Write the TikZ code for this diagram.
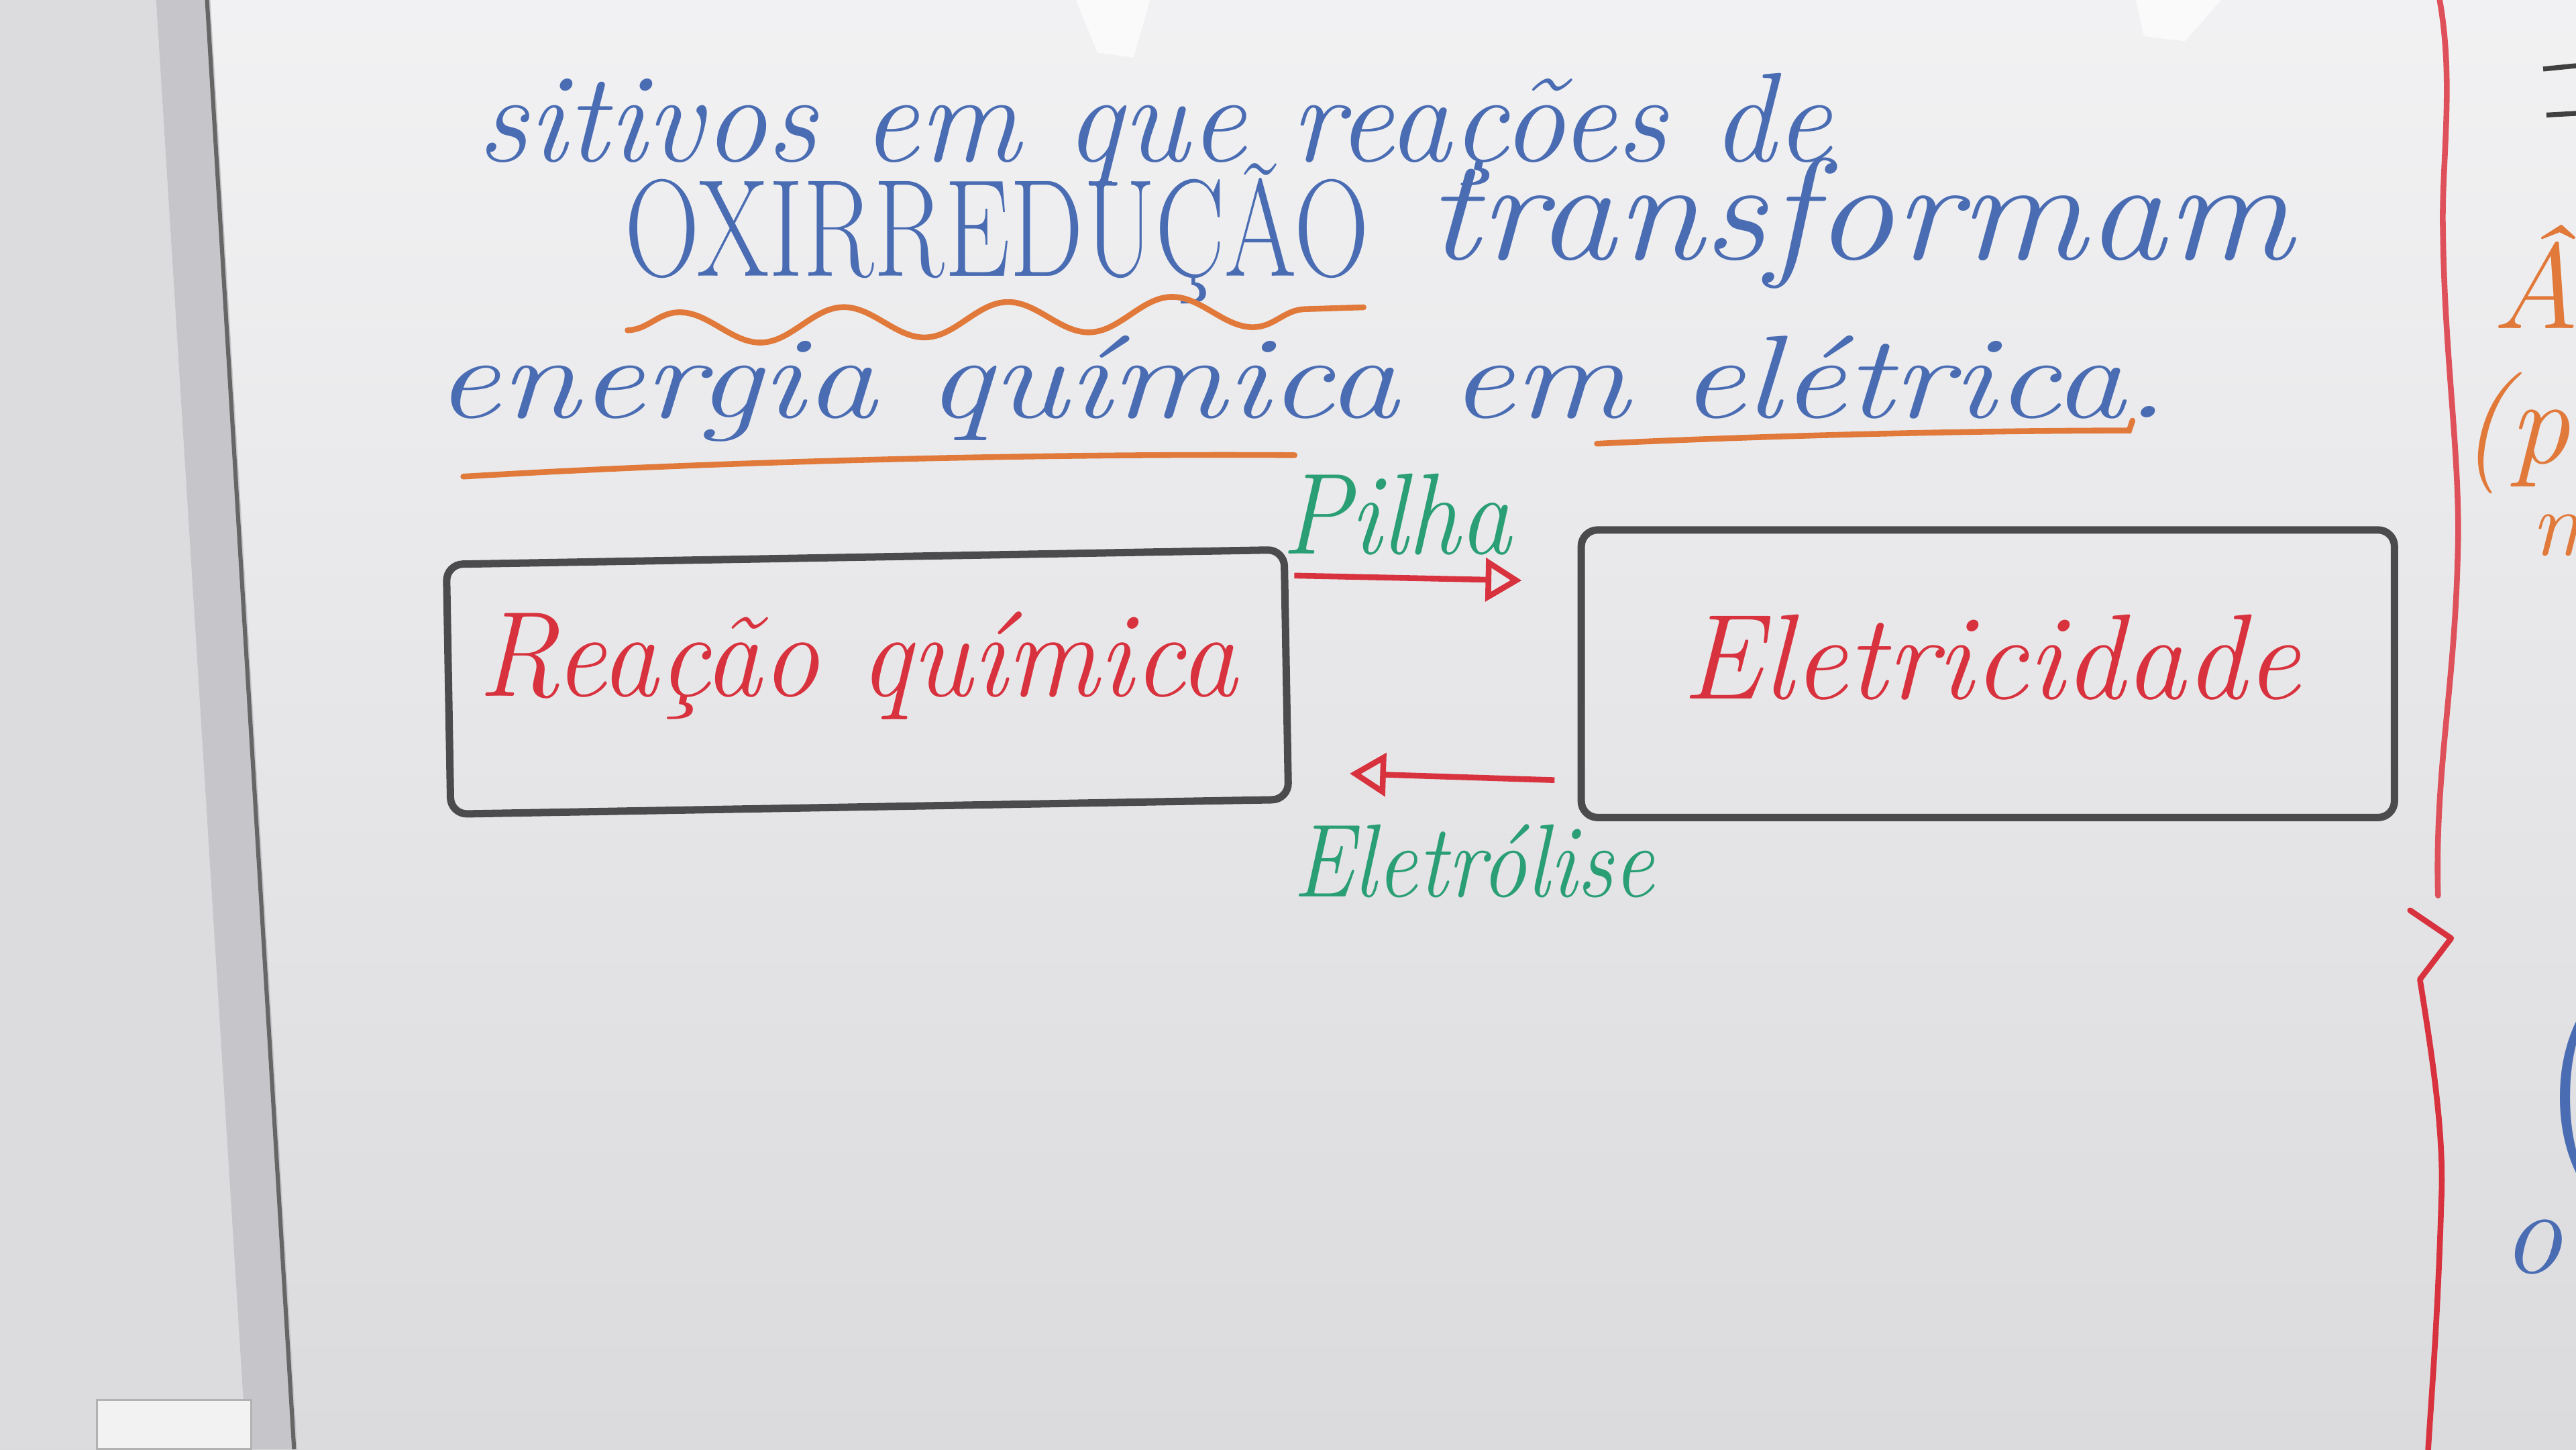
\documentclass[tikz,border=0pt]{standalone}
\usepackage{fontspec}
\usetikzlibrary{positioning,calc,arrows.meta,decorations.pathmorphing}

\definecolor{quadro}{HTML}{E4E4E7}
\definecolor{parede}{HTML}{DCDCDF}
\definecolor{moldura}{HTML}{C6C6CA}
\definecolor{azul}{HTML}{4A6CB3}
\definecolor{laranja}{HTML}{E0793A}
\definecolor{vermelho}{HTML}{D8323E}
\definecolor{verde}{HTML}{2A9E74}
\definecolor{grafite}{HTML}{4B4B4E}

\tikzset{
  escrita/.style={inner sep=0pt, font=\fontsize{21}{24}\selectfont\itshape},
  caixa/.style={draw=grafite, line width=0.45mm, rounded corners=1mm, inner sep=0pt},
  seta/.style={vermelho, line width=0.35mm, -{Triangle[open,length=2.2mm,width=2.6mm]}},
  sublinhado/.style={laranja, line width=0.35mm, line cap=round}
}

\begin{document}
\begin{tikzpicture}[x=0.1mm,y=-0.1mm]
	\useasboundingbox (0,0) rectangle (1568,882);
	% quadro, parede e moldura
	\shade[top color=quadro!50!white, bottom color=quadro!96!black] (0,0) rectangle (1568,882);
	\fill[parede] (0,0)--(95,0)--(150,882)--(0,882)--cycle;
	\fill[moldura] (95,0)--(128,0)--(181,882)--(150,882)--cycle;
	\draw[gray!80!black, line width=0.25mm] (126,0)--(179,882);
	\fill[white!90!gray, draw=gray!60] (59,852) rectangle (153,882);
	\fill[white, opacity=0.7] (655,0)--(700,0)--(690,35)--(668,32)--cycle;
	\fill[white, opacity=0.7] (1300,0)--(1352,0)--(1330,25)--(1305,22)--cycle;

	% texto azul
	\node[escrita, text=azul, anchor=base west, font=\fontsize{22}{24}\selectfont\itshape] (linha1) at (290,98) {sitivos em que reações de};
	\node[escrita, text=azul, anchor=base west, font=\fontsize{24}{26}\selectfont, xscale=0.75] (oxi) at (380,168) {OXIRREDUÇÃO};
	\node[escrita, text=azul, anchor=base west, font=\fontsize{25}{26}\selectfont\itshape, xscale=1.1] (transf) at (868,158) {transformam};
	\node[escrita, text=azul, anchor=base west, font=\fontsize{24}{26}\selectfont\itshape, xscale=1.04, yscale=0.85] (linha3) at (264,254) {energia química em elétrica.};
	\draw[sublinhado, decorate, decoration={snake, amplitude=1mm, segment length=10mm}] (382,201)--(830,187);
	\draw[sublinhado] (282,290) .. controls (450,280) and (650,276) .. (788,277);
	\draw[sublinhado] (972,270) .. controls (1100,264) and (1220,262) .. (1296,262)--(1298,256);

	% caixas
	\node[caixa, minimum width=51mm, minimum height=15.2mm, rotate=1] (reacao) at (528,415) {};
	\node[escrita, text=vermelho, xscale=0.95] (reacaotxt) at (522,405) {Reação química};
	\node[caixa, minimum width=49.5mm, minimum height=17.5mm] (eletr) at (1210,410) {};
	\node[escrita, text=vermelho] (eletrtxt) at (1212,400) {Eletricidade};

	% setas
	\draw[seta] ($(reacao.north east)+(4,18)$) -- ($(eletr.north west)+(-34,33)$);
	\draw[seta] ($(eletr.south west)+(-14,-25)$) -- ($(reacao.south east)+(35,-18)$);
	\node[escrita, text=verde, font=\fontsize{20}{22}\selectfont\itshape, xscale=0.9] (pilha) at (850,313) {Pilha};
	\node[escrita, text=verde, font=\fontsize{18}{20}\selectfont\itshape, xscale=0.88] (eletrolise) at (897,524) {Eletrólise};

	% margem direita
	\draw[vermelho!85!white, line width=0.35mm, line cap=round] (1485,0) .. controls (1494,50) and (1486,100) .. (1487,140)
	   .. controls (1488,220) and (1498,280) .. (1496,338) .. controls (1494,420) and (1482,470) .. (1484,545);
	\draw[vermelho, line width=0.35mm, line cap=round, line join=round] (1467,554)--(1492,571)--(1473,596)
	   .. controls (1480,640) and (1488,690) .. (1486,731) .. controls (1484,800) and (1480,850) .. (1478,882);
	\draw[black!75, line width=0.3mm] (1548,42)--(1568,40);
	\draw[black!75, line width=0.3mm] (1550,70)--(1568,69);
	\node[escrita, text=laranja, anchor=base west] (am) at (1516,200) {Âm};
	\node[escrita, text=laranja, anchor=base west] (po) at (1497,282) {(po};
	\node[escrita, text=laranja, anchor=base west, font=\fontsize{16}{18}\selectfont\itshape] (mm) at (1540,338) {m};
	\node[escrita, text=azul, anchor=west, font=\fontsize{40}{40}\selectfont] (par) at (1545,668) {(};
	\node[escrita, text=azul, anchor=base west] (oo) at (1522,775) {o};
\end{tikzpicture}
\end{document}
